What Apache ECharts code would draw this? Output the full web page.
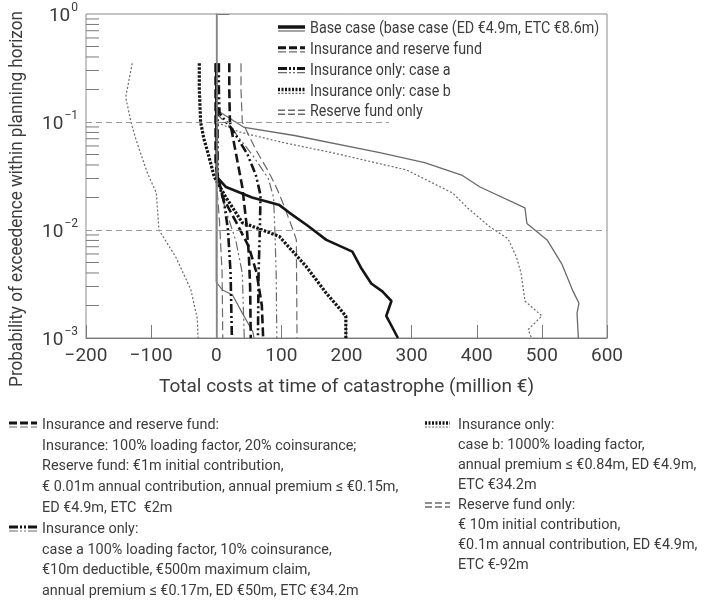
<!DOCTYPE html>
<html>
<head>
<meta charset="utf-8">
<script src="https://cdn.jsdelivr.net/npm/echarts@6/dist/echarts.min.js"></script>
<style>
  html, body { margin: 0; padding: 0; background: #fff; }
  #chart { width: 709px; height: 607px; }
</style>
</head>
<body>
<div id="chart"></div>
<script>
// Exceedance curves: [total cost (million €), probability of exceedence]
const baseCaseThick = [[0,0.35],[0,0.2],[0,0.1],[1,0.05],[1,0.031],[15,0.025],[55,0.02],[97,0.017],[112,0.0145],[140,0.011],[169,0.0081],[209,0.0063],[222,0.0045],[238,0.0032],[255,0.0027],[269,0.0022],[261,0.0016],[279,0.001]];
const baseCaseThin = [[0,0.35],[0,0.2],[0,0.13],[43,0.089],[120,0.075],[251,0.052],[320,0.042],[378,0.032],[405,0.025],[474,0.016],[477,0.0115],[508,0.0081],[531,0.0048],[548,0.0027],[557,0.0021],[554,0.0017],[556,0.001]];
const baseCaseLow = [[0,0.35],[0,0.0033],[9,0.0028],[25,0.0025],[40,0.0017],[56,0.00115],[58,0.001]];

const bothThick = [[20,0.35],[20,0.2],[21,0.1],[26,0.07],[32,0.045],[40,0.025],[46,0.012],[50,0.006],[52,0.003],[53,0.001]];
const bothThickLow = [[-1,0.35],[-1,0.04],[10,0.02],[30,0.012],[50,0.007],[62,0.004],[70,0.002],[72,0.001]];
const bothThin = [[38,0.35],[38,0.2],[40,0.1],[61,0.055],[80,0.035],[92,0.025],[102,0.018],[118,0.01],[123,0.0081],[124,0.001]];
const bothThinLow = [[0,0.03],[5,0.012],[9,0.004],[10,0.001]];

const caseAThick = [[4,0.35],[4,0.2],[5,0.12],[25,0.085],[48,0.05],[61,0.032],[68,0.021],[67,0.0105],[65,0.004],[64,0.001]];
const caseAThickLow = [[2,0.35],[2,0.03],[12,0.018],[18,0.01],[22,0.004],[24,0.001]];
const caseAThin = [[0,0.12],[25,0.085],[55,0.05],[80,0.03],[88,0.02],[90,0.01],[92,0.004],[93,0.001]];
const caseAThinLow = [[0,0.03],[15,0.015],[30,0.008],[40,0.004],[43,0.001]];

const caseBThick = [[-26,0.35],[-26,0.2],[-24,0.1],[-19,0.07],[-14,0.055],[-3,0.031],[15,0.02],[40,0.0117],[71,0.01],[97,0.0087],[138,0.0046],[169,0.0026],[199,0.0016],[199,0.001]];

const reserveThin = [[0,0.35],[0,0.2],[0,0.1],[35,0.081],[100,0.065],[178,0.052],[292,0.036],[363,0.022],[386,0.016],[420,0.0107],[448,0.0083],[461,0.0056],[468,0.004],[474,0.0022],[500,0.0016],[479,0.0012],[484,0.001]];
const reserveNegative = [[-129,0.35],[-139,0.17],[-131,0.1],[-123,0.068],[-106,0.034],[-92,0.022],[-88,0.01],[-62,0.0056],[-39,0.0028],[-29,0.0015],[-28,0.001]];

// Minor ticks of the log axis (2..9 in each decade)
const minorTickValues = [0.002,0.003,0.004,0.005,0.006,0.007,0.008,0.009,
                         0.02,0.03,0.04,0.05,0.06,0.07,0.08,0.09,
                         0.2,0.3,0.4,0.5,0.6,0.7,0.8,0.9];

const legendLabels = ['Base case (base case (ED €4.9m, ETC €8.6m)', 'Insurance and reserve fund', 'Insurance only: case a', 'Insurance only: case b', 'Reserve fund only'];

const yAxisTitle = 'Probability of exceedence within planning horizon';

const notesLeft = [
  'Insurance and reserve fund:',
  'Insurance: 100% loading factor, 20% coinsurance;',
  'Reserve fund: €1m initial contribution,',
  '€ 0.01m annual contribution, annual premium ≤ €0.15m,',
  'ED €4.9m, ETC  €2m',
  'Insurance only:',
  'case a 100% loading factor, 10% coinsurance,',
  '€10m deductible, €500m maximum claim,',
  'annual premium ≤ €0.17m, ED €50m, ETC €34.2m'
];
const notesRight = [
  'Insurance only:',
  'case b: 1000% loading factor,',
  'annual premium ≤ €0.84m, ED €4.9m,',
  'ETC €34.2m',
  'Reserve fund only:',
  '€ 10m initial contribution,',
  '€0.1m annual contribution, ED €4.9m,',
  'ETC €-92m'
];

const FONT = "Roboto, 'Noto Sans', sans-serif";
const TXT = '#3c3c3c';
const AX = '#7a7a7a';
const DARK = '#151515';
const GREY = '#6a6a6a';

const DASH = [9, 4];
const DASHDOT = [9, 3, 2, 3, 2, 3];
const DOT = [2.5, 1.5];
const FINEDOT = [2, 2];

function curve(name, data, color, width, type) {
  return {
    name, type: 'line', data, showSymbol: false, symbol: 'none', silent: true,
    lineStyle: { color, width, type }, z: width > 2 ? 4 : 3
  };
}

const chart = echarts.init(document.getElementById('chart'), null, { renderer: 'canvas' });

// condensed-looking text block
function textEl(text, x, y, size, sx) {
  return { type: 'text', x, y, scaleX: sx, silent: true,
    style: { text, fontSize: size, fontFamily: FONT, fill: TXT, verticalAlign: 'middle' } };
}

const legendGraphics = [];
const symbolStyles = [
  [{ stroke: DARK, w: 3.5, d: null }, { stroke: GREY, w: 1.2, d: null }],
  [{ stroke: DARK, w: 3, d: [8, 3] }, { stroke: GREY, w: 1.2, d: [8, 3] }],
  [{ stroke: DARK, w: 3, d: [9, 2, 2, 2, 2, 2] }, { stroke: GREY, w: 1.2, d: [9, 2, 2, 2, 2, 2] }],
  [{ stroke: DARK, w: 3.5, d: [2, 1.5] }, { stroke: GREY, w: 1.2, d: [2, 1.5] }],
  [{ stroke: GREY, w: 1.5, d: [7, 3] }, { stroke: GREY, w: 1.5, d: [7, 3] }]
];
function addSymbol(list, x1, x2, y, idx) {
  const s = symbolStyles[idx];
  list.push({ type: 'line', shape: { x1, y1: y - 2, x2, y2: y - 2 }, style: { stroke: s[0].stroke, lineWidth: s[0].w, lineDash: s[0].d }, silent: true });
  list.push({ type: 'line', shape: { x1, y1: y + 2, x2, y2: y + 2 }, style: { stroke: s[1].stroke, lineWidth: s[1].w, lineDash: s[1].d }, silent: true });
}
legendLabels.forEach((t, i) => {
  const y = 29 + i * 20.8;
  addSymbol(legendGraphics, 278, 305, y, i);
  legendGraphics.push(textEl(t, 310, y, 17, 0.84));
});

const noteGraphics = [];
notesLeft.forEach((t, i) => {
  noteGraphics.push(textEl(t, 42, 425 + i * 20.8, 15.5, 0.93));
});
addSymbol(noteGraphics, 9, 37, 425, 1);
addSymbol(noteGraphics, 9, 37, 425 + 5 * 20.8, 2);
notesRight.forEach((t, i) => {
  noteGraphics.push(textEl(t, 458, 425 + i * 20, 15.5, 0.93));
});
addSymbol(noteGraphics, 425, 450, 425, 3);
addSymbol(noteGraphics, 425, 450, 425 + 4 * 20, 4);

const titleGraphic = {
  type: 'text', x: 17, y: 199, rotation: Math.PI / 2, scaleX: 0.9, silent: true,
  style: { text: yAxisTitle, fontSize: 19, fontFamily: FONT, fill: TXT, align: 'center', verticalAlign: 'middle' }
};

const option = {
  animation: false,
  backgroundColor: '#fff',
  textStyle: { fontFamily: FONT },
  grid: { left: 86, top: 14, width: 521, height: 324, outerBoundsMode: 'none', containLabel: false,
    show: true, borderColor: '#8a8a8a', borderWidth: 1, backgroundColor: 'transparent' },
  xAxis: {
    type: 'value', min: -200, max: 600, interval: 100,
    axisLine: { show: true, lineStyle: { color: AX, width: 1.2 } },
    axisTick: { show: true, inside: true, length: 13, lineStyle: { color: AX } },
    axisLabel: { color: TXT, fontSize: 19, fontFamily: FONT, margin: 9,
      formatter: v => (v < 0 ? '\u2212' + (-v) : String(v)) },
    splitLine: { show: false },
    name: 'Total costs at time of catastrophe (million €)',
    nameLocation: 'middle', nameGap: 40,
    nameTextStyle: { color: TXT, fontSize: 19, fontFamily: FONT }
  },
  yAxis: {
    type: 'log', logBase: 10, min: 0.001, max: 1,
    axisLine: { show: true, lineStyle: { color: AX, width: 1.2 } },
    axisTick: { show: true, inside: true, length: 13, lineStyle: { color: AX } },
    axisLabel: {
      margin: 8, color: TXT, fontFamily: FONT,
      formatter: v => {
        const e = Math.round(Math.log10(v));
        return '{b|10}{s|' + (e === 0 ? '0' : '\u2212' + (-e)) + '}';
      },
      rich: {
        b: { fontSize: 19, color: TXT, fontFamily: FONT, lineHeight: 24, verticalAlign: 'bottom' },
        s: { fontSize: 12, color: TXT, fontFamily: FONT, lineHeight: 24, verticalAlign: 'top', padding: [0, 0, 0, 1] }
      }
    },
    splitLine: { show: false }
  },
  series: [
    {
      type: 'custom', name: 'minor ticks', silent: true, z: 2,
      data: minorTickValues.map(v => [-200, v]),
      encode: { x: 0, y: 1 },
      renderItem: (params, api) => {
        const p = api.coord([api.value(0), api.value(1)]);
        return { type: 'line', shape: { x1: p[0], y1: p[1], x2: p[0] + 13, y2: p[1] }, style: { stroke: AX, lineWidth: 1 } };
      },
      markLine: {
        silent: true, symbol: 'none', label: { show: false },
        data: [
          [{ coord: [0, 0.001], lineStyle: { color: '#8a8a8a', width: 1.5, type: 'solid' } }, { coord: [0, 1] }],
          [{ coord: [-200, 0.1], lineStyle: { color: '#9a9a9a', width: 1, type: [6, 4] } }, { coord: [265, 0.1] }],
          [{ coord: [-200, 0.01], lineStyle: { color: '#9a9a9a', width: 1, type: [6, 4] } }, { coord: [600, 0.01] }]
        ]
      }
    },
    curve('Reserve fund only (negative)', reserveNegative, GREY, 1.2, FINEDOT),
    curve('Reserve fund only', reserveThin, GREY, 1.2, FINEDOT),
    curve('Base case', baseCaseThin, GREY, 1.3, 'solid'),
    curve('Base case low', baseCaseLow, GREY, 1.2, 'solid'),
    curve('Insurance and reserve fund thin', bothThin, GREY, 1.2, DASH),
    curve('Insurance and reserve fund thin low', bothThinLow, GREY, 1.2, DASH),
    curve('Insurance only: case a thin', caseAThin, GREY, 1.2, DASHDOT),
    curve('Insurance only: case a thin low', caseAThinLow, GREY, 1.2, DASHDOT),
    curve('Insurance only: case a', caseAThick, DARK, 2.6, DASHDOT),
    curve('Insurance only: case a low', caseAThickLow, DARK, 2.6, DASHDOT),
    curve('Insurance and reserve fund', bothThick, DARK, 2.6, DASH),
    curve('Insurance and reserve fund low', bothThickLow, DARK, 2.6, DASH),
    curve('Insurance only: case b', caseBThick, DARK, 3.2, DOT),
    curve('Base case thick', baseCaseThick, DARK, 2.6, 'solid')
  ],
  graphic: legendGraphics.concat(noteGraphics, [titleGraphic])
};

chart.setOption(option);
</script>
</body>
</html>
